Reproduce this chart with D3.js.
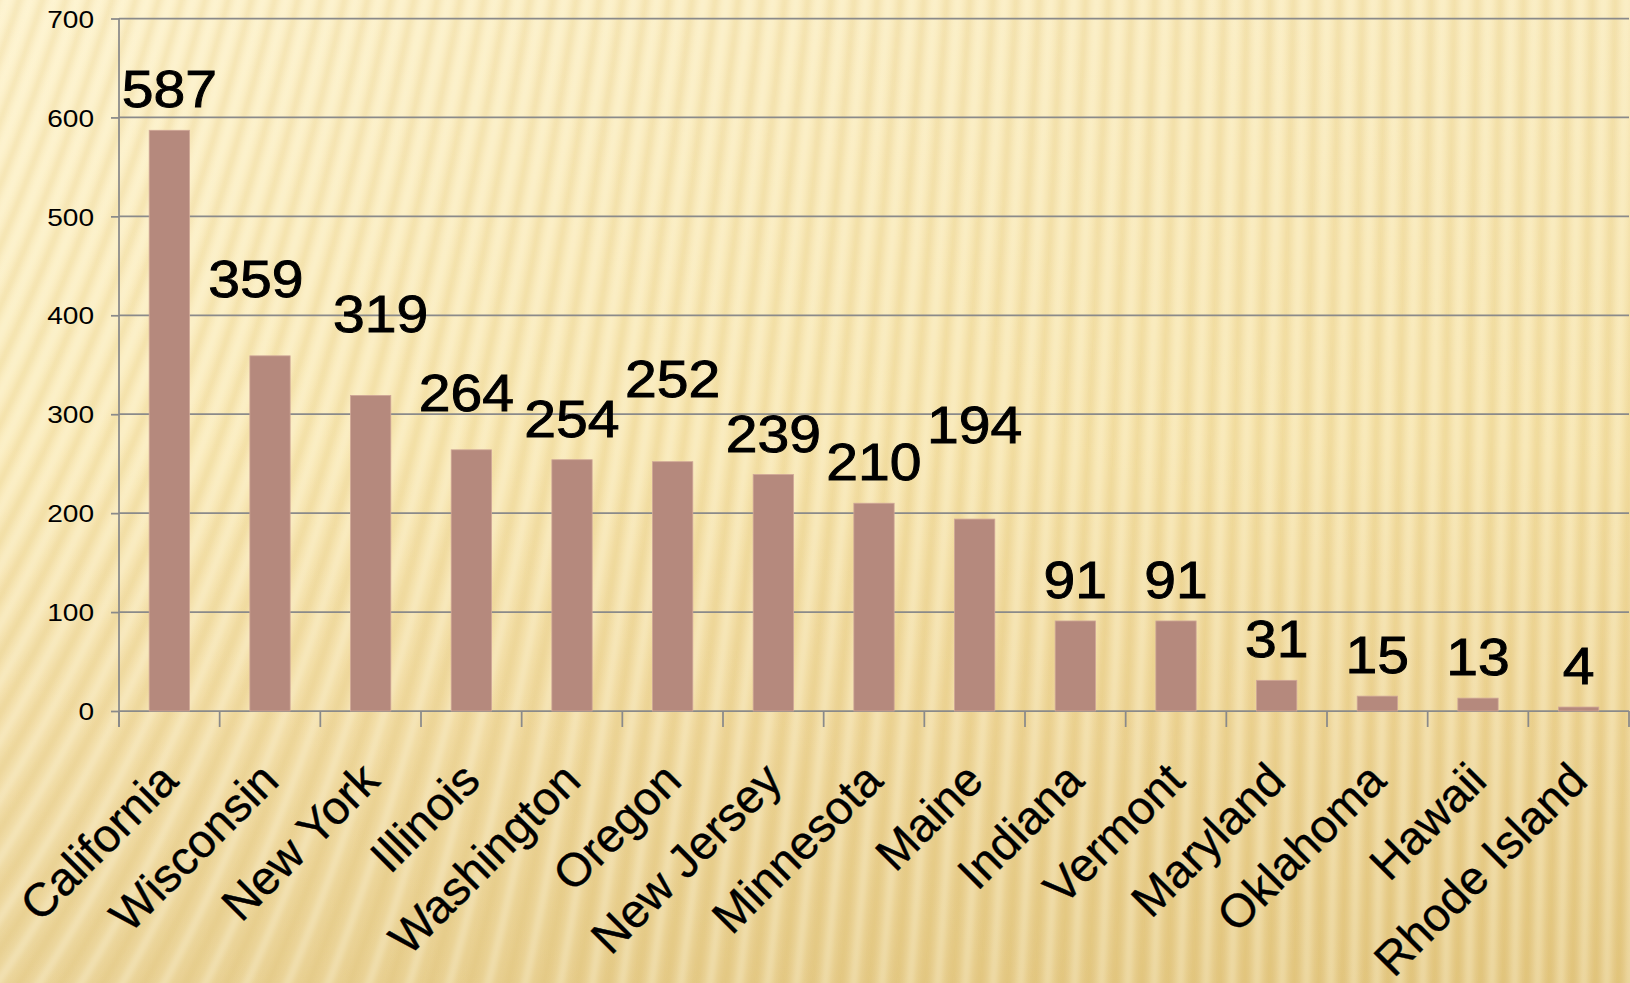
<!DOCTYPE html>
<html>
<head>
<meta charset="utf-8">
<script src="https://cdn.jsdelivr.net/npm/d3@7/dist/d3.min.js"></script>
<style>
  html, body { margin: 0; padding: 0; background: #f6e4a9; }
  svg { display: block; }
  text { font-family: "Liberation Sans", Arial, sans-serif; fill: #000; }
</style>
</head>
<body>
<svg id="chart"></svg>
<script>
var w = 1630;
var h = 983;

// data
var states = ["California", "Wisconsin", "New York", "Illinois", "Washington", "Oregon",
  "New Jersey", "Minnesota", "Maine", "Indiana", "Vermont", "Maryland", "Oklahoma",
  "Hawaii", "Rhode Island"];
var counts = [587, 359, 319, 264, 254, 252, 239, 210, 194, 91, 91, 31, 15, 13, 4];
var yTicks = [0, 100, 200, 300, 400, 500, 600, 700];

// hand-placed data labels in the original (px offsets from the default spot)
var labelNudge = {
  "Wisconsin": [-14, -36],
  "New York": [10, -40],
  "Illinois": [-5, -16],
  "Oregon": [0, -42],
  "Maine": [0, -53]
};

var plotL = 119, plotR = 1629, plotT = 18.5, plotB = 711;

var svg = d3.select("#chart")
  .attr("width", w)
  .attr("height", h);

// ---- background: golden gradient with soft stripes
var defs = svg.append("defs");
var vg = defs.append("linearGradient").attr("id", "bgv")
  .attr("x1", 0).attr("y1", 0).attr("x2", 0).attr("y2", 1);
vg.append("stop").attr("offset", 0).attr("stop-color", "#fcefc3");
vg.append("stop").attr("offset", 0.45).attr("stop-color", "#f8e6ae");
vg.append("stop").attr("offset", 0.75).attr("stop-color", "#eed596");
vg.append("stop").attr("offset", 1).attr("stop-color", "#e3c781");

var hg = defs.append("linearGradient").attr("id", "bgh")
  .attr("x1", 0).attr("y1", 0).attr("x2", 1).attr("y2", 0);
hg.append("stop").attr("offset", 0).attr("stop-color", "#fff8dc").attr("stop-opacity", 0.25);
hg.append("stop").attr("offset", 1).attr("stop-color", "#e2c273").attr("stop-opacity", 0.15);

defs.append("filter").attr("id", "soft")
  .attr("x", -0.1).attr("y", -0.1).attr("width", 1.2).attr("height", 1.2)
  .append("feGaussianBlur").attr("stdDeviation", 3.2);

svg.append("rect").attr("width", w).attr("height", h).attr("fill", "url(#bgv)");
svg.append("rect").attr("width", w).attr("height", h).attr("fill", "url(#bgh)");

// stripe direction: slanted on the left, near vertical on the right
function slant(x, y) {
  var fx = Math.pow(Math.max(0, 1 - x / 1350), 1.5);
  return 0.02 + 0.32 * fx + 0.35 * (y / h) * Math.max(0, 1 - x / 600);
}
function stripe(x0) {
  var pts = [], x = x0;
  for (var y = -30; y <= h + 30; y += 15) {
    pts.push([x, y]);
    x -= slant(x, y) * 15;
  }
  return d3.line().curve(d3.curveBasis)(pts);
}

var stripes = svg.append("g").attr("filter", "url(#soft)");
for (var sx = -40; sx < 1760; sx += 23) {
  stripes.append("path").attr("d", stripe(sx))
    .attr("fill", "none").attr("stroke", "#d2ad5a").attr("stroke-opacity", 0.2).attr("stroke-width", 6);
  stripes.append("path").attr("d", stripe(sx + 11))
    .attr("fill", "none").attr("stroke", "#fffbe6").attr("stroke-opacity", 0.38).attr("stroke-width", 8);
}

// ---- scales
var x = d3.scaleBand().domain(states).range([plotL, plotR]);
var y = d3.scaleLinear().domain([0, 700]).range([plotB, plotT]);
var barW = x.bandwidth() * 0.4;

// gridlines
svg.append("g").selectAll("line")
  .data(yTicks)
  .enter().append("line")
  .attr("x1", plotL).attr("x2", plotR)
  .attr("y1", function(d) { return y(d); })
  .attr("y2", function(d) { return y(d); })
  .attr("stroke", "#8a8a8a").attr("stroke-width", 1.75);

// y axis
var yAxis = svg.append("g")
  .attr("transform", "translate(" + plotL + ",0)")
  .call(d3.axisLeft(y).tickValues(yTicks).tickSize(8));
yAxis.select(".domain").remove();
yAxis.selectAll("line").attr("stroke", "#8a8a8a").attr("stroke-width", 1.75);
yAxis.selectAll("text")
  .attr("x", 0).attr("dy", "0.36em")
  .attr("transform", "translate(-25,0) scale(1.17,1)")
  .style("font-size", "24px")
  .style("font-family", "'Liberation Sans', Arial, sans-serif")
  .attr("fill", "#000");

svg.append("line")
  .attr("x1", plotL).attr("x2", plotL)
  .attr("y1", plotT).attr("y2", plotB + 16)
  .attr("stroke", "#8a8a8a").attr("stroke-width", 1.75);

// x ticks between categories
var bounds = states.map(function(d) { return x(d); }).concat([plotR]);
svg.append("g").selectAll("line")
  .data(bounds)
  .enter().append("line")
  .attr("x1", function(d) { return d; }).attr("x2", function(d) { return d; })
  .attr("y1", plotB).attr("y2", plotB + 16)
  .attr("stroke", "#8a8a8a").attr("stroke-width", 1.75);

// bars
svg.append("g").selectAll("rect")
  .data(counts)
  .enter().append("rect")
  .attr("x", function(d, i) { return x(states[i]) + (x.bandwidth() - barW) / 2; })
  .attr("width", barW)
  .attr("y", function(d) { return y(d); })
  .attr("height", function(d) { return y(0) - y(d); })
  .attr("fill", "#b5897d")
  .attr("stroke", "#cfa697").attr("stroke-width", 0.8);

// value labels
svg.append("g").selectAll("text")
  .data(counts)
  .enter().append("text")
  .attr("text-anchor", "middle")
  .style("font-size", "51px")
  .attr("stroke", "#000").attr("stroke-width", 0.9)
  .attr("transform", function(d, i) {
    var n = labelNudge[states[i]] || [0, 0];
    var cx = x(states[i]) + x.bandwidth() / 2 + n[0];
    return "translate(" + cx + "," + (y(d) - 23 + n[1]) + ") scale(1.12,1)";
  })
  .text(function(d) { return d; });

// category labels
svg.append("g").selectAll("text")
  .data(states)
  .enter().append("text")
  .attr("text-anchor", "end")
  .style("font-size", "47px")
  .attr("stroke", "#000").attr("stroke-width", 0.4)
  .attr("transform", function(d) {
    return "translate(" + (x(d) + x.bandwidth() / 2 + 11) + ",783) rotate(-45)";
  })
  .text(function(d) { return d; });
</script>
</body>
</html>
